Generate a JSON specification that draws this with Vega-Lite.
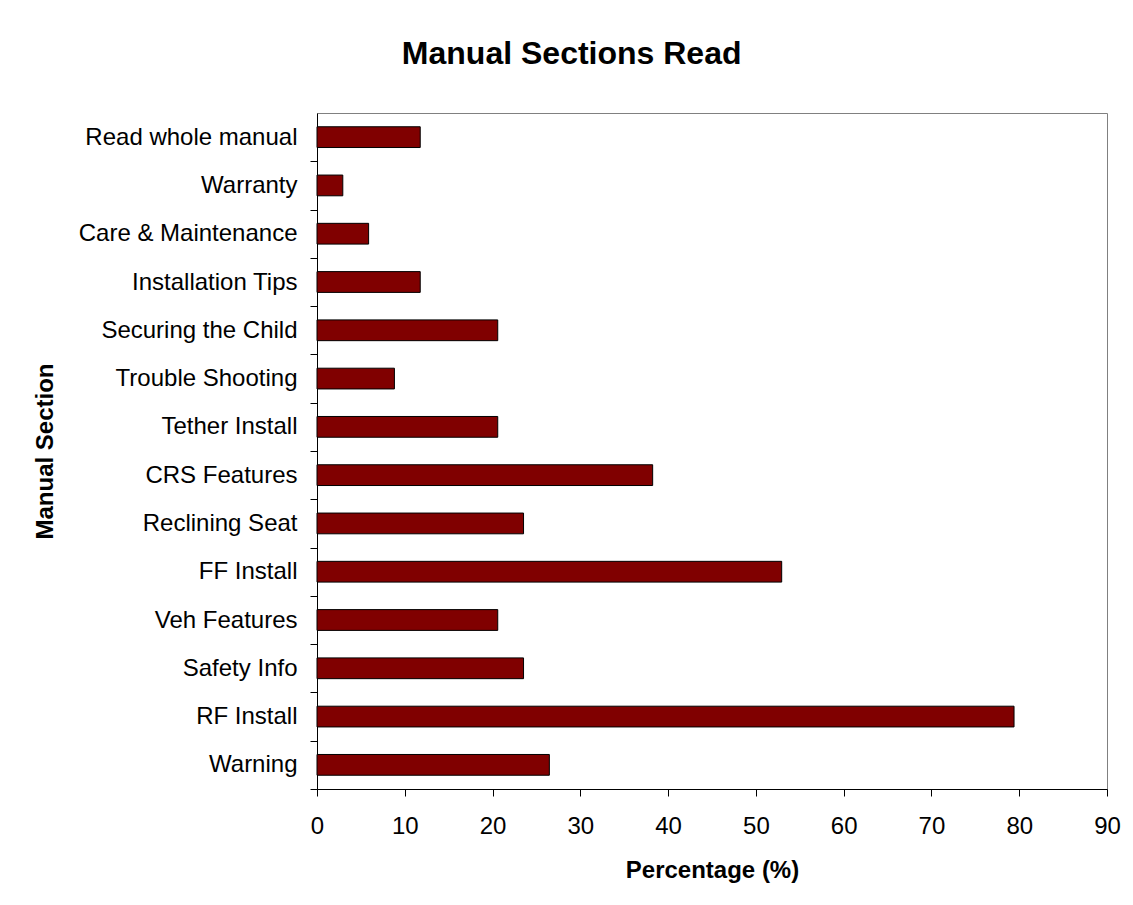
{
  "$schema": "https://vega.github.io/schema/vega-lite/v6.json",
  "width": 790,
  "height": 676,
  "autosize": {"type": "none"},
  "padding": {"left": 317, "top": 113, "right": 26, "bottom": 116},
  "background": "white",
  "title": {
    "text": "Manual Sections Read",
    "font": "Liberation Sans",
    "fontSize": 32,
    "fontWeight": "bold",
    "color": "black",
    "anchor": "middle",
    "frame": "bounds",
    "offset": 42,
    "dx": -5
  },
  "data": {
    "values": [
      {"section": "Warning", "pct": 26.47},
      {"section": "RF Install", "pct": 79.41},
      {"section": "Safety Info", "pct": 23.53},
      {"section": "Veh Features", "pct": 20.59},
      {"section": "FF Install", "pct": 52.94},
      {"section": "Reclining Seat", "pct": 23.53},
      {"section": "CRS Features", "pct": 38.24},
      {"section": "Tether Install", "pct": 20.59},
      {"section": "Trouble Shooting", "pct": 8.82},
      {"section": "Securing the Child", "pct": 20.59},
      {"section": "Installation Tips", "pct": 11.76},
      {"section": "Care & Maintenance", "pct": 5.88},
      {"section": "Warranty", "pct": 2.94},
      {"section": "Read whole manual", "pct": 11.76}
    ]
  },
  "mark": {"type": "bar", "fill": "#800000", "stroke": "black", "strokeWidth": 1},
  "encoding": {
    "y": {
      "field": "section",
      "type": "nominal",
      "sort": ["Read whole manual", "Warranty", "Care & Maintenance", "Installation Tips", "Securing the Child", "Trouble Shooting", "Tether Install", "CRS Features", "Reclining Seat", "FF Install", "Veh Features", "Safety Info", "RF Install", "Warning"],
      "scale": {"paddingInner": 0.57, "paddingOuter": 0.285},
      "axis": {
        "title": "Manual Section",
        "titleFont": "Liberation Sans",
        "titleFontSize": 24,
        "titleFontWeight": "bold",
        "titleColor": "black",
        "titlePadding": 60,
        "labelFont": "Liberation Sans",
        "labelFontSize": 24,
        "labelColor": "black",
        "labelPadding": 13,
        "labelLimit": 400,
        "tickOffset": 24.14,
        "labelOffset": -24.14,
        "tickSize": 7,
        "tickColor": "black",
        "domainColor": "black",
        "grid": false
      }
    },
    "x": {
      "field": "pct",
      "type": "quantitative",
      "scale": {"domain": [0, 90], "nice": false},
      "axis": {
        "title": "Percentage (%)",
        "titleFont": "Liberation Sans",
        "titleFontSize": 24,
        "titleFontWeight": "bold",
        "titleColor": "black",
        "titlePadding": 20,
        "labelFont": "Liberation Sans",
        "labelFontSize": 24,
        "labelColor": "black",
        "labelPadding": 18,
        "values": [0, 10, 20, 30, 40, 50, 60, 70, 80, 90],
        "tickSize": 7,
        "tickColor": "black",
        "domainColor": "black",
        "grid": false,
        "labelFlush": false
      }
    }
  },
  "config": {
    "view": {"stroke": "#808080", "strokeWidth": 1}
  }
}
